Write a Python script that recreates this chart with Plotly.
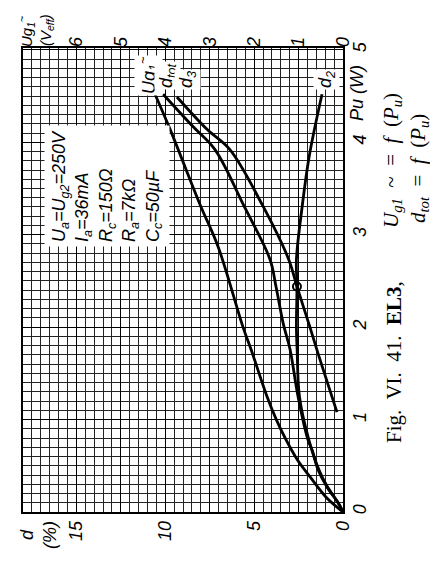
import plotly.graph_objects as go

# %%
# Data (Pu in W, d in %, Ug1 in Veff)
pu_ug = [0, 0.16, 0.38, 0.56, 0.78, 1.0, 1.25, 1.76, 2.0, 2.87, 3.33, 4.14, 4.52]
ug1 = [0, 0.38, 0.74, 1.02, 1.28, 1.5, 1.71, 2.07, 2.25, 2.81, 3.22, 3.89, 4.23]

pu_tot = [0, 0.10, 0.27, 0.46, 0.67, 0.78, 1.25, 1.76, 2.03, 2.44, 2.73, 3.33, 3.92, 4.17, 4.52]
d_tot = [0, 0.28, 0.9, 1.41, 1.74, 1.97, 2.53, 2.98, 3.35, 3.77, 4.1, 5.62, 7.2, 8.44, 10.12]

pu_d3 = [1.08, 1.7, 2.0, 2.44, 2.73, 3.33, 3.92, 4.14, 4.49]
d3 = [0.34, 1.38, 1.86, 2.59, 3.05, 4.56, 6.36, 7.65, 9.34]

pu_d2 = [0, 0.10, 0.27, 0.46, 0.78, 1.25, 1.76, 2.0, 2.44, 2.73, 3.3, 3.85, 4.52]
d2 = [0, 0.27, 0.87, 1.36, 1.92, 2.45, 2.58, 2.62, 2.59, 2.62, 2.3, 1.9, 1.18]

cross_pu = [2.44]
cross_d = [2.59]

d_ticks = [0, 5, 10, 15]
ug_ticks = [0, 1, 2, 3, 4, 5, 6]
pu_ticks = [0, 1, 2, 3, 4, 5]

# %%
# the page body adds an 8 px margin, so the figure is 8 px smaller than the window
OFF = 8
W, H = 438 - OFF, 563 - OFF
ML, MR, MT, MB = 23 - OFF, 95, 48 - OFF, 51


def paper(px, py):
    # reference pixel position -> paper coordinates
    return (px - 23) / 320, (512 - py) / 464


hand = dict(family="Liberation Sans", size=18, color="black", style="italic")
hand_small = dict(family="Liberation Sans", size=15, color="black", style="italic")
serif = dict(family="Liberation Serif", size=21, color="black")
curve = dict(color="black", width=2.8, shape="spline")

fig = go.Figure()
fig.add_trace(go.Scatter(x=ug1, y=pu_ug, xaxis="x2", mode="lines", line=curve))
fig.add_trace(go.Scatter(x=d_tot, y=pu_tot, mode="lines", line=curve))
fig.add_trace(go.Scatter(x=d3, y=pu_d3, mode="lines", line=curve))
fig.add_trace(go.Scatter(x=d2, y=pu_d2, mode="lines", line=curve))
fig.add_trace(go.Scatter(x=cross_d, y=cross_pu, mode="markers",
                         marker=dict(symbol="circle-open", size=8, color="black",
                                     line=dict(width=2))))

fig.update_layout(
    width=W, height=H,
    margin=dict(l=ML, r=MR, t=MT, b=MB),
    paper_bgcolor="white", plot_bgcolor="white",
    showlegend=False,
    xaxis=dict(
        range=[18, 0], side="bottom", tickmode="array", tickvals=d_ticks,
        tickangle=-90, tickfont=hand, ticks="", showgrid=False, zeroline=False,
        showline=True, mirror=True, linecolor="black", linewidth=1.6,
        automargin=False,
        minor=dict(tick0=0, dtick=0.5, showgrid=True, gridcolor="#222", gridwidth=0.9),
    ),
    xaxis2=dict(
        range=[7.2, 0], overlaying="x", side="top", tickmode="array",
        tickvals=ug_ticks, tickangle=-90, tickfont=hand, ticks="",
        showgrid=True, gridcolor="black", gridwidth=1.3, zeroline=False,
        automargin=False,
    ),
    yaxis=dict(
        range=[0, 5.02], side="right", tickmode="array", tickvals=pu_ticks,
        tickangle=-90, tickfont=hand, ticks="", showgrid=True,
        gridcolor="black", gridwidth=1.3, zeroline=False,
        showline=True, mirror=True, linecolor="black", linewidth=1.6,
        automargin=False,
        minor=dict(tick0=0, dtick=0.1, showgrid=True, gridcolor="#222", gridwidth=0.9),
    ),
)


def note(px, py, text, font, **kw):
    x, y = paper(px, py)
    fig.add_annotation(x=x, y=y, xref="paper", yref="paper", text=text,
                       xanchor="center", yanchor="middle",
                       textangle=-90, showarrow=False, font=font, **kw)


# axis titles
note(27, 32, "Ug<sub>1</sub><sup>~</sup>", hand_small)
note(46, 30, "(V<sub>eff</sub>)", hand_small)
note(38, 535, "d<br>(%)", hand)
note(357, 93, "Pu (W)", hand)

# curve labels
note(149, 76, "Ug<sub>1</sub><sup>~</sup>", hand, bgcolor="white")
note(168, 76, "d<sub>tot</sub>", hand, bgcolor="white")
note(187, 80, "d<sub>3</sub>", hand, bgcolor="white")
note(326, 80, "d<sub>2</sub>", hand, bgcolor="white")

# operating conditions box
note(107, 186,
     "U<sub>a</sub>=U<sub>g2</sub>=250V<br>I<sub>a</sub>=36mA<br>R<sub>c</sub>=150Ω"
     "<br>R<sub>a</sub>=7kΩ<br>C<sub>c</sub>=50µF",
     hand, align="left", bgcolor="white", borderpad=4)

# caption
note(394, 362, "Fig.  VI.  41.  <b>EL3</b>,", serif)
note(392, 161, "<i>U<sub>g1</sub></i>  ~  =  <i>f</i>  (<i>P<sub>u</sub></i>)", serif)
note(419, 169, "<i>d<sub>tot</sub></i>  =  <i>f</i>  (<i>P<sub>u</sub></i>)", serif)

fig.write_html("out.html")
